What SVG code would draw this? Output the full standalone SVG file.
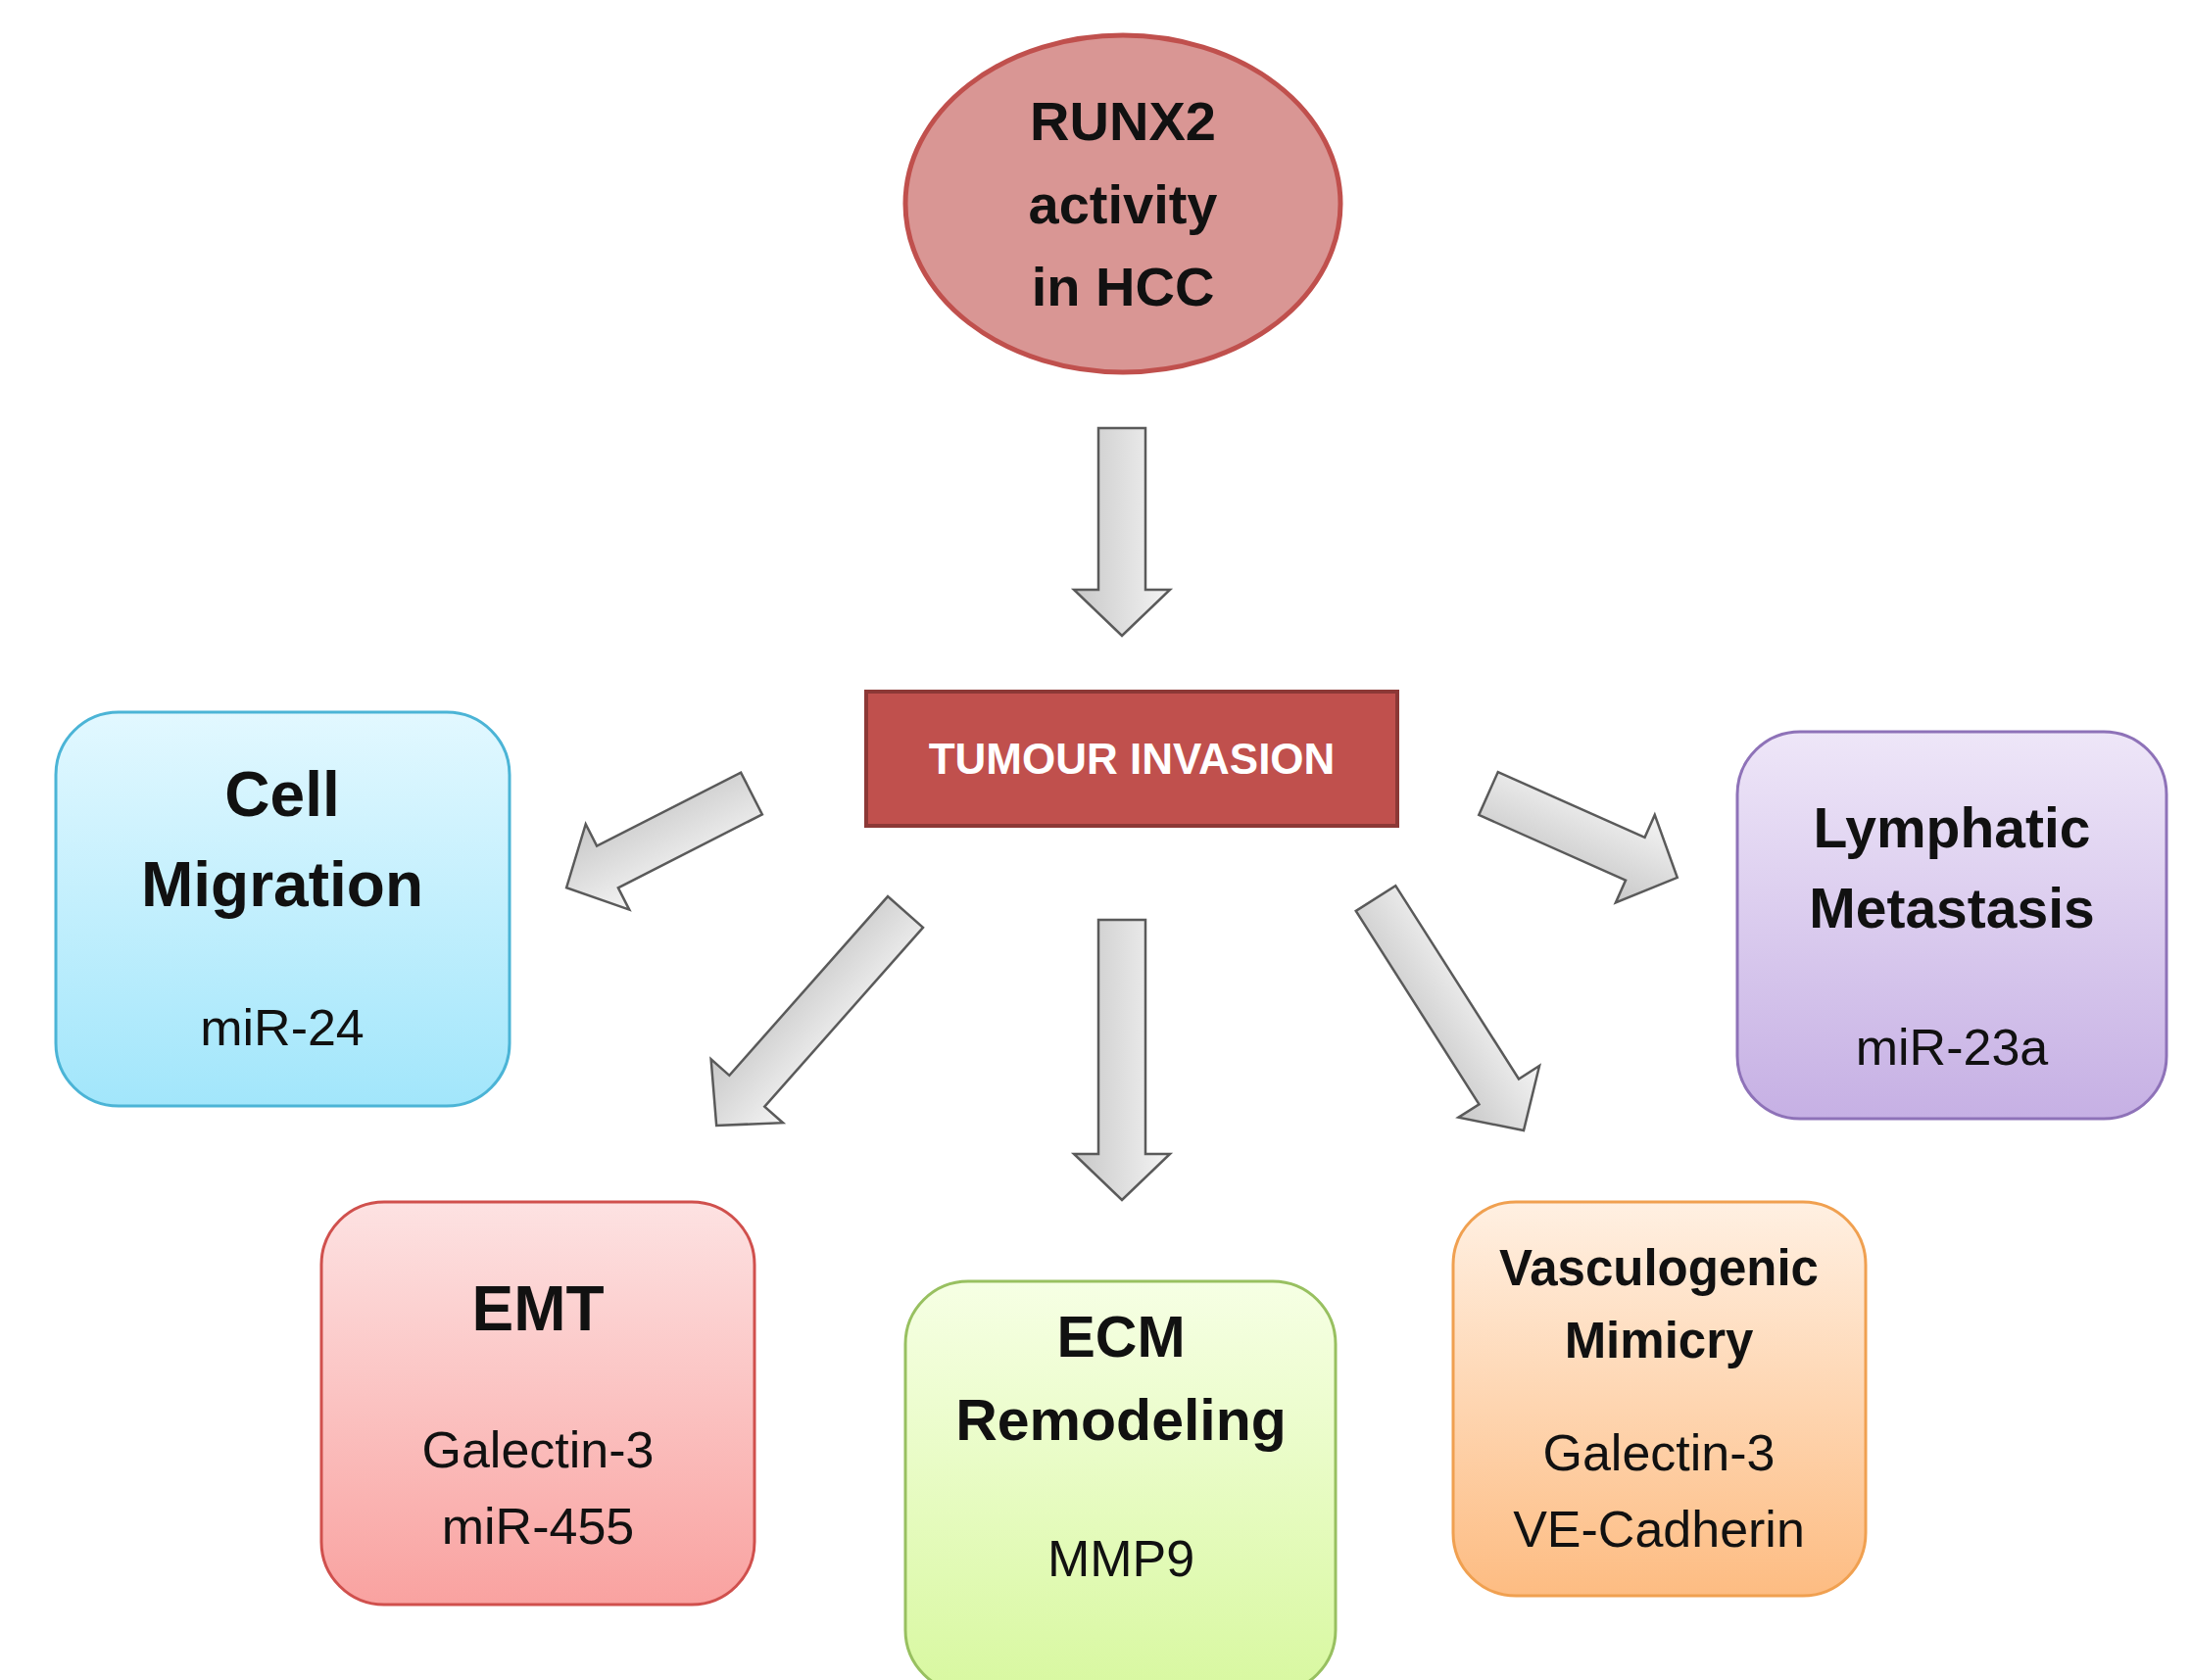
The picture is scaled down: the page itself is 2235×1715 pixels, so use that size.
<svg xmlns="http://www.w3.org/2000/svg" width="2235" height="1715" viewBox="0 0 2235 1715">
<defs>
<linearGradient id="ga" x1="0" y1="0" x2="0" y2="1"><stop offset="0" stop-color="#f4f4f4"/><stop offset="1" stop-color="#c8c8c8"/></linearGradient>
<linearGradient id="gc" x1="0" y1="0" x2="0" y2="1"><stop offset="0" stop-color="#e2f8ff"/><stop offset="1" stop-color="#a2e6fb"/></linearGradient>
<linearGradient id="gp" x1="0" y1="0" x2="0" y2="1"><stop offset="0" stop-color="#eee6f8"/><stop offset="1" stop-color="#c6b0e4"/></linearGradient>
<linearGradient id="gr" x1="0" y1="0" x2="0" y2="1"><stop offset="0" stop-color="#fde2e2"/><stop offset="1" stop-color="#f9a2a0"/></linearGradient>
<linearGradient id="gg" x1="0" y1="0" x2="0" y2="1"><stop offset="0" stop-color="#f6ffe4"/><stop offset="1" stop-color="#d8f8a0"/></linearGradient>
<linearGradient id="go" x1="0" y1="0" x2="0" y2="1"><stop offset="0" stop-color="#fff0e2"/><stop offset="1" stop-color="#fdbc82"/></linearGradient>
</defs>
<style>
text{font-family:"Liberation Sans",Arial,sans-serif;text-anchor:middle;fill:#111}
.b{font-weight:bold}
.arr{fill:url(#ga);stroke:#5a5a5a;stroke-width:2.5}
.box{stroke-width:3}
</style>
<rect width="2235" height="1715" fill="#fff"/>
<g id="runx2">
<ellipse cx="1146" cy="208" rx="222" ry="172" fill="#d99694" stroke="#c0504d" stroke-width="5"/>
<text class="b" x="1146" y="143" font-size="56">RUNX2</text>
<text class="b" x="1146" y="228" font-size="56">activity</text>
<text class="b" x="1146" y="312" font-size="56">in HCC</text>
</g>
<g id="tumour">
<rect x="884" y="706" width="542" height="137" fill="#c0504d" stroke="#8c3836" stroke-width="4"/>
<text class="b" x="1155" y="790" font-size="44" style="fill:#fff">TUMOUR INVASION</text>
</g>
<g id="connectors">
<path class="arr" transform="translate(1145,437) rotate(90)" d="M0,-24 L165,-24 L165,-49 L212,0 L165,49 L165,24 L0,24 Z"/>
<path class="arr" transform="translate(1145,939) rotate(90)" d="M0,-24 L239,-24 L239,-49 L286,0 L239,49 L239,24 L0,24 Z"/>
<path class="arr" transform="translate(767,810) rotate(153)" d="M0,-24 L165,-24 L165,-49 L212,0 L165,49 L165,24 L0,24 Z"/>
<path class="arr" transform="translate(924,931) rotate(131.5)" d="M0,-24 L244,-24 L244,-49 L291,0 L244,49 L244,24 L0,24 Z"/>
<path class="arr" transform="translate(1404,917) rotate(57.5)" d="M0,-24 L234,-24 L234,-49 L281,0 L234,49 L234,24 L0,24 Z"/>
<path class="arr" transform="translate(1519,810) rotate(24)" d="M0,-24 L164,-24 L164,-49 L211,0 L164,49 L164,24 L0,24 Z"/>
</g>
<g id="cell-migration">
<rect class="box" x="57" y="727" width="463" height="402" rx="64" fill="url(#gc)" stroke="#4bb4d6"/>
<text class="b" x="288" y="833" font-size="64">Cell</text>
<text class="b" x="288" y="925" font-size="64">Migration</text>
<text x="288" y="1067" font-size="52">miR-24</text>
</g>
<g id="lymphatic">
<rect class="box" x="1773" y="747" width="438" height="395" rx="64" fill="url(#gp)" stroke="#8e72b8"/>
<text class="b" x="1992" y="865" font-size="57">Lymphatic</text>
<text class="b" x="1992" y="947" font-size="57">Metastasis</text>
<text x="1992" y="1087" font-size="52">miR-23a</text>
</g>
<g id="emt">
<rect class="box" x="328" y="1227" width="442" height="411" rx="64" fill="url(#gr)" stroke="#d0504d"/>
<text class="b" x="549" y="1358" font-size="64">EMT</text>
<text x="549" y="1498" font-size="52">Galectin-3</text>
<text x="549" y="1576" font-size="52">miR-455</text>
</g>
<g id="ecm">
<rect class="box" x="924" y="1308" width="439" height="420" rx="64" fill="url(#gg)" stroke="#98c060"/>
<text class="b" x="1144" y="1385" font-size="59">ECM</text>
<text class="b" x="1144" y="1470" font-size="59">Remodeling</text>
<text x="1144" y="1609" font-size="52">MMP9</text>
</g>
<g id="vasculogenic">
<rect class="box" x="1483" y="1227" width="421" height="402" rx="64" fill="url(#go)" stroke="#f0a050"/>
<text class="b" x="1693" y="1312" font-size="51">Vasculogenic</text>
<text class="b" x="1693" y="1386" font-size="51">Mimicry</text>
<text x="1693" y="1501" font-size="52">Galectin-3</text>
<text x="1693" y="1579" font-size="52">VE-Cadherin</text>
</g>
</svg>
